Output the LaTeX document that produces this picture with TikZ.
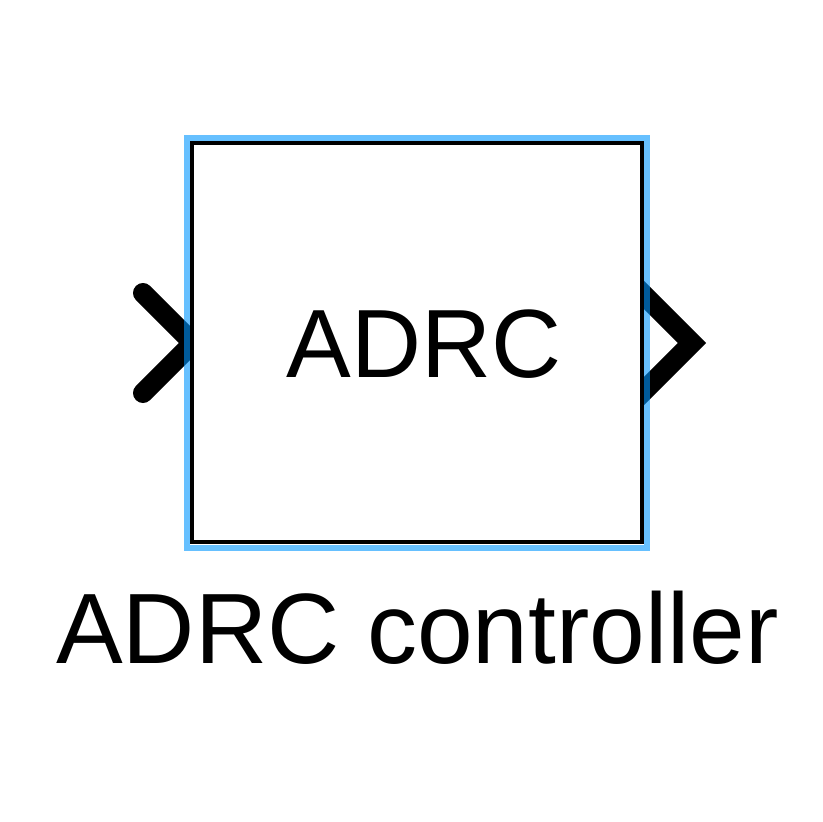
\documentclass[tikz,border=0pt]{standalone}
\usepackage{fontspec}
\setmainfont{Liberation Sans}
\usetikzlibrary{positioning}

\definecolor{selblue}{RGB}{0,150,255}

\begin{document}
\begin{tikzpicture}[x=1pt, y=-1pt, every node/.style={font=\fontsize{100}{110}\selectfont}]
\useasboundingbox (0,0) rectangle (822,822);

% port chevrons (drawn first, the block covers their inner ends)
\draw[black, line width=20pt, line cap=round, line join=miter] (143,293) -- (193,343) -- (143,393);
\draw[black, line width=20pt, line cap=butt, line join=miter] (630,281) -- (692,343) -- (630,405);

% selection frame
\path (417,343) node[draw=selblue, draw opacity=0.6, line width=6pt, minimum width=460pt, minimum height=410pt, inner sep=0pt] (sel) {};

% block
\path (417,342.5) node[draw=black, fill=white, line width=4pt, minimum width=450pt, minimum height=399pt, inner sep=0pt] (blk) {};
\path (424,377) node[anchor=base, font=\fontsize{97}{110}\selectfont] (blktext) {ADRC};
%\path (blk.center) node {ADRC};

\path (417.5,663) node[anchor=base] (blkname) {ADRC controller};
\end{tikzpicture}
\end{document}
